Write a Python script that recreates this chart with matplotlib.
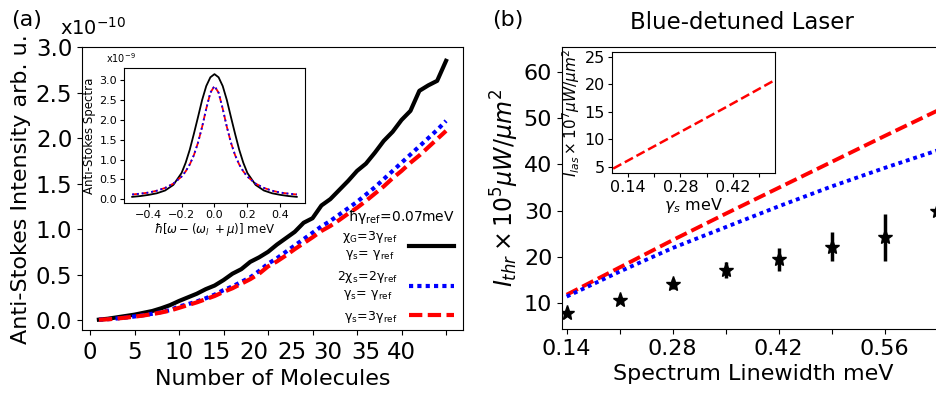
import matplotlib.pyplot as plt
import numpy as np

# ---- panel (a): anti-Stokes intensity vs number of molecules (units of 1e-10)
molecules = list(range(1, 41))
int_black = [0.005, 0.015, 0.03, 0.045, 0.06, 0.08, 0.10, 0.13, 0.165, 0.21,
             0.25, 0.29, 0.34, 0.38, 0.44, 0.51, 0.56, 0.64, 0.69, 0.75,
             0.83, 0.90, 0.97, 1.07, 1.12, 1.26, 1.33, 1.43, 1.53, 1.64,
             1.72, 1.84, 1.97, 2.07, 2.20, 2.30, 2.52, 2.58, 2.63, 2.85]
int_blue = [0.004, 0.010, 0.018, 0.028, 0.040, 0.054, 0.070, 0.088, 0.11, 0.15,
            0.175, 0.205, 0.24, 0.28, 0.33, 0.37, 0.42, 0.47, 0.54, 0.62,
            0.68, 0.75, 0.82, 0.89, 0.96, 1.03, 1.09, 1.16, 1.23, 1.30,
            1.38, 1.46, 1.55, 1.64, 1.73, 1.82, 1.91, 2.00, 2.09, 2.19]
int_red = [0.004, 0.009, 0.017, 0.027, 0.038, 0.051, 0.066, 0.084, 0.105, 0.135,
           0.165, 0.195, 0.23, 0.265, 0.31, 0.35, 0.40, 0.45, 0.51, 0.59,
           0.645, 0.71, 0.78, 0.845, 0.91, 0.98, 1.035, 1.10, 1.17, 1.235,
           1.31, 1.39, 1.47, 1.56, 1.64, 1.73, 1.81, 1.90, 1.99, 2.08]
xtick_labels_a = ['0', '5', '10', '15', '20', '25', '30', '35', '40']

# inset (a): spectra (units of 1e-9)
spec_x = [-0.5, -0.45, -0.4, -0.35, -0.3, -0.25, -0.2, -0.175, -0.15, -0.125,
          -0.1, -0.075, -0.05, -0.025, 0.0, 0.025, 0.05, 0.075, 0.1, 0.125,
          0.15, 0.175, 0.2, 0.25, 0.3, 0.35, 0.4, 0.45, 0.5]
spec_black = [0.06, 0.08, 0.11, 0.15, 0.22, 0.36, 0.66, 0.92, 1.25, 1.65,
              2.07, 2.50, 2.85, 3.07, 3.15, 3.07, 2.85, 2.50, 2.07, 1.65,
              1.25, 0.92, 0.66, 0.36, 0.22, 0.15, 0.11, 0.08, 0.06]
spec_blue = [0.12, 0.14, 0.168, 0.215, 0.285, 0.393, 0.57, 0.702, 0.877, 1.112,
             1.425, 1.824, 2.28, 2.682, 2.85, 2.682, 2.28, 1.824, 1.425, 1.112,
             0.877, 0.702, 0.57, 0.393, 0.285, 0.215, 0.168, 0.14, 0.12]

# ---- panel (b): threshold intensity vs linewidth
linewidth = [0.14, 0.21, 0.28, 0.35, 0.42, 0.49, 0.56, 0.63]
thr_sim = [7.8, 10.7, 14.1, 17.2, 19.5, 22.2, 24.2, 30.0]
err_low = [0.3, 0.6, 1.1, 1.7, 2.5, 3.2, 5.1, 13.3]
err_high = [0.3, 0.6, 1.1, 1.7, 2.5, 3.2, 5.1, 6.5]
thr_red = [11.8, 17.7, 23.6, 29.3, 34.9, 40.5, 46.1, 51.6]
thr_blue = [11.4, 16.8, 21.9, 26.4, 30.9, 35.2, 39.2, 43.0]

# inset (b)
gamma_s = [0.10, 0.20, 0.30, 0.40, 0.53]
i_las = [4.7, 8.4, 12.1, 15.8, 20.7]

fig = plt.figure(figsize=(9.37, 3.93), dpi=100)

# ================= (a) =================
ax = fig.add_axes([0.0875, 0.160, 0.4066, 0.720])
ax.plot(molecules, int_black, color='black', lw=3,
        label=r'$\mathregular{\chi_G\!=\!3\gamma_{ref}}$' + '\n' + r'$\mathregular{\gamma_s\!=\,\gamma_{ref}}$')
ax.plot(molecules, int_blue, color='blue', lw=3, ls=':', dashes=(1, 1),
        label=r'$\mathregular{2\chi_s\!=\!2\gamma_{ref}}$' + '\n' + r'$\mathregular{\gamma_s\!=\,\gamma_{ref}}$')
ax.plot(molecules, int_red, color='red', lw=3, ls='--', dashes=(3.2, 1.3),
        label=r'$\mathregular{\gamma_s\!=\!3\gamma_{ref}}$')
ax.set_xlim(-0.9, 41.9)
ax.set_ylim(-0.11, 3.0)
ax.set_yticks(np.arange(0, 3.01, 0.5))
ax.set_yticklabels(['%.1f' % v for v in np.arange(0, 3.01, 0.5)])
# tick marks every 5, labels drawn where they sit in the original
ax.xaxis.remove_overlapping_locs = False
ax.set_xticks([0, 5, 10, 14.2, 18.4, 22.7, 26.7, 31.0, 35.0], xtick_labels_a)
ax.set_xticks(np.arange(0, 41, 5), minor=True)
ax.tick_params(axis='x', which='major', length=0, labelsize=16.5, pad=7.5)
ax.tick_params(axis='x', which='minor', length=3.5, width=0.8)
ax.tick_params(axis='y', labelsize=16.5)
ax.set_xlabel('Number of Molecules', fontsize=16)
ax.set_ylabel('Anti-Stokes Intensity arb. u.', fontsize=16, labelpad=3)
ax.text(-0.058, 1.045, r'x10$^{\mathregular{-10}}$', transform=ax.transAxes, fontsize=14, va='baseline')
fig.text(0.012, 0.935, '(a)', fontsize=16)

leg = ax.legend(loc='lower right', bbox_to_anchor=(1.0, -0.012), frameon=False,
                markerfirst=False, fontsize=9,
                title=r'ħ$\mathregular{\gamma_{ref}}$=0.07meV', title_fontsize=10,
                handlelength=3.6, labelspacing=0.55, borderaxespad=0.3, handletextpad=0.9)
leg._legend_box.align = 'right'
leg._legend_box.sep = 2
for t in leg.get_texts():
    t.set_multialignment('center')

# inset (a)
axi = fig.add_axes([0.1323, 0.4835, 0.1932, 0.3435])
axi.plot(spec_x, spec_black, color='black', lw=1.3)
axi.plot(spec_x, spec_blue, color='red', lw=1.3, ls='--')
axi.plot(spec_x, spec_blue, color='blue', lw=1.3, ls=':')
axi.set_xticks([-0.4, -0.2, 0.0, 0.2, 0.4])
axi.set_yticks(np.arange(0, 3.01, 0.5))
axi.set_yticklabels(['%.1f' % v for v in np.arange(0, 3.01, 0.5)])
axi.tick_params(labelsize=8, length=3, pad=2)
axi.set_ylabel('Anti-Stokes Spectra', fontsize=8.5, labelpad=2)
axi.set_xlabel(r'$\hbar[\omega-(\omega_{l}\ +\mu)]$ meV', fontsize=8.5, labelpad=1)
axi.text(-0.1, 1.04, r'x10$^{\mathregular{-9}}$', transform=axi.transAxes, fontsize=7)

# ================= (b) =================
bx = fig.add_axes([0.5998, 0.163, 0.4088, 0.718])
bx.plot(linewidth, thr_red, color='red', lw=2.8, ls='--', dashes=(3.2, 1.3))
bx.plot(linewidth, thr_blue, color='blue', lw=2.8, ls=':', dashes=(1, 1))
bx.errorbar(linewidth, thr_sim, yerr=[err_low, err_high], fmt='*', color='black',
            ms=11, elinewidth=2.5, capsize=0)
bx.set_xlim(0.1338, 0.640)
bx.set_ylim(4.4, 65.4)
bx.set_xticks([0.14, 0.21, 0.28, 0.35, 0.42, 0.49, 0.56, 0.63])
bx.set_xticklabels(['0.14', '', '0.28', '', '0.42', '', '0.56', ''])
bx.set_yticks([10, 20, 30, 40, 50, 60])
bx.tick_params(labelsize=16)
bx.set_xlabel('Spectrum Linewidth meV', fontsize=16)
bx.set_ylabel(r'$I_{thr}\times10^5\mu W/\mu m^2$', fontsize=17, labelpad=2)
bx.set_title('Blue-detuned Laser', fontsize=16.5, x=0.47, pad=13)
fig.text(0.525, 0.935, '(b)', fontsize=16)

# inset (b)
bxi = fig.add_axes([0.6532, 0.5598, 0.174, 0.3079])
bxi.plot(gamma_s, i_las, color='red', lw=1.8, ls='--')
bxi.set_xlim(0.097, 0.533)
bxi.set_ylim(3.9, 25.9)
bxi.set_xticks([0.14, 0.21, 0.28, 0.35, 0.42, 0.49])
bxi.set_xticklabels(['0.14', '', '0.28', '', '0.42', ''])
bxi.set_yticks([5, 10, 15, 20, 25])
bxi.tick_params(labelsize=11.5, length=3, pad=2)
bxi.set_xlabel(r'$\gamma_s$ meV', fontsize=11.5, labelpad=1)
bxi.set_ylabel(r'$I_{las}\times10^7\mu W/\mu m^2$', fontsize=11, labelpad=2)

fig.savefig('out.png', dpi=100)
